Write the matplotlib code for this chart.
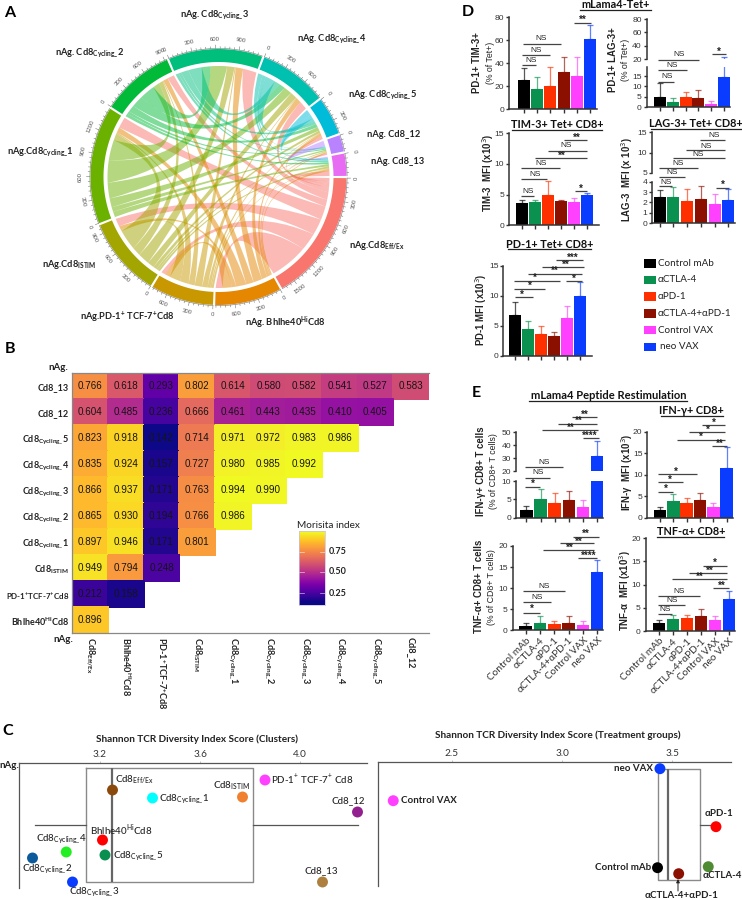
import numpy as np
import matplotlib
matplotlib.use("Agg")
import matplotlib.pyplot as plt
from matplotlib.path import Path
from matplotlib.patches import PathPatch, Polygon, Rectangle

plt.rcParams["font.family"] = ["Lato", "DejaVu Sans"]
plt.rcParams["mathtext.fontset"] = "dejavusans"
plt.rcParams["axes.unicode_minus"] = False

W, H = 742, 900
SANS = ["Liberation Sans", "DejaVu Sans"]

# ── Panel A: chord widths (row = source, column = target) ──
SECTORS = ["Eff/Ex", "Bhlhe40", "PD-1", "ISTIM", "C1", "C2", "C3", "C4", "C5", "C12", "C13"]
SECTOR_COLORS = ["#F8766D", "#E58700", "#C99800", "#A3A500", "#6BB100", "#00BA38",
                 "#00BF7D", "#00C0AF", "#00BCD8", "#B983FF", "#E76BF3"]
LINK_SOURCE = [
    [0, 560, 260, 240, 200, 100, 110, 70, 50, 40, 50],
    [0, 0, 140, 60, 150, 110, 130, 80, 40, 20, 20],
    [0, 0, 0, 160, 130, 90, 110, 80, 40, 20, 30],
    [0, 0, 0, 0, 300, 130, 170, 100, 50, 30, 30],
    [0, 0, 0, 0, 0, 300, 330, 230, 130, 70, 80],
    [0, 0, 0, 0, 0, 0, 230, 170, 100, 40, 45],
    [0, 0, 0, 0, 0, 0, 0, 200, 110, 40, 45],
    [0, 0, 0, 0, 0, 0, 0, 0, 150, 50, 70],
    [0, 0, 0, 0, 0, 0, 0, 0, 0, 60, 87],
    [0, 0, 0, 0, 0, 0, 0, 0, 0, 0, 85],
    [0, 0, 0, 0, 0, 0, 0, 0, 0, 0, 0],
]
LINK_TARGET = [
    [0, 100, 60, 120, 160, 100, 200, 120, 50, 25, 75],
    [0, 0, 80, 50, 80, 70, 110, 80, 40, 15, 30],
    [0, 0, 0, 30, 20, 15, 15, 10, 8, 6, 8],
    [0, 0, 0, 0, 100, 60, 110, 100, 35, 12, 30],
    [0, 0, 0, 0, 0, 100, 240, 120, 55, 20, 30],
    [0, 0, 0, 0, 0, 0, 130, 90, 50, 15, 25],
    [0, 0, 0, 0, 0, 0, 0, 80, 45, 12, 25],
    [0, 0, 0, 0, 0, 0, 0, 0, 50, 10, 20],
    [0, 0, 0, 0, 0, 0, 0, 0, 0, 10, 20],
    [0, 0, 0, 0, 0, 0, 0, 0, 0, 0, 20],
    [0, 0, 0, 0, 0, 0, 0, 0, 0, 0, 0],
]

# ── Panel B: Morisita index ────────────────────────────────────────────────────
MORISITA_ROWS = ["Cd8_13", "Cd8_12", r"Cd8$_{\mathregular{Cycling\_}}$5", r"Cd8$_{\mathregular{Cycling\_}}$4",
                 r"Cd8$_{\mathregular{Cycling\_}}$3", r"Cd8$_{\mathregular{Cycling\_}}$2",
                 r"Cd8$_{\mathregular{Cycling\_}}$1", r"Cd8$_{\mathregular{ISTIM}}$",
                 r"PD-1$^{\mathregular{+}}$TCF-7$^{\mathregular{+}}$Cd8", r"Bhlhe40$^{\mathregular{Hi}}$Cd8"]
MORISITA_COLS = [r"Cd8$_{\mathregular{Eff/Ex}}$", r"Bhlhe40$^{\mathregular{Hi}}$Cd8",
                 r"PD-1$^{\mathregular{+}}$TCF-7$^{\mathregular{+}}$Cd8", r"Cd8$_{\mathregular{ISTIM}}$",
                 r"Cd8$_{\mathregular{Cycling\_}}$1", r"Cd8$_{\mathregular{Cycling\_}}$2",
                 r"Cd8$_{\mathregular{Cycling\_}}$3", r"Cd8$_{\mathregular{Cycling\_}}$4",
                 r"Cd8$_{\mathregular{Cycling\_}}$5", "Cd8_12"]
MORISITA = [
    [0.766, 0.618, 0.293, 0.802, 0.614, 0.580, 0.582, 0.541, 0.527, 0.583],
    [0.604, 0.485, 0.236, 0.666, 0.461, 0.443, 0.435, 0.410, 0.405],
    [0.823, 0.918, 0.142, 0.714, 0.971, 0.972, 0.983, 0.986],
    [0.835, 0.924, 0.157, 0.727, 0.980, 0.985, 0.992],
    [0.866, 0.937, 0.171, 0.763, 0.994, 0.990],
    [0.865, 0.930, 0.194, 0.766, 0.986],
    [0.897, 0.946, 0.171, 0.801],
    [0.949, 0.794, 0.248],
    [0.212, 0.158],
    [0.896],
]

# ── Panel C: Shannon scores ────────────────────────────────────────────────────
CLUSTER_SCORE = [3.25, 3.41, 3.77, 3.86, 4.23, 3.21, 3.065, 3.22, 2.93, 3.09, 4.09]
CLUSTER_LEVEL = [27, 35, 34, 17, 49, 77, 89, 92, 95, 119, 119]
CLUSTER_COLORS = ["#8B4A0B", "#00FFFF", "#F08030", "#FF40FF", "#93208F", "#FF0000",
                  "#22EE22", "#0A8F50", "#0A5A9C", "#0A3CFF", "#AD8040"]
GROUP_SCORE = [3.444, 2.235, 3.698, 3.663, 3.433, 3.529]
GROUP_LEVEL = [7, 39, 65, 105, 106, 112]
GROUP_COLORS = ["#0A3CFF", "#FF40FF", "#FF0000", "#4E8B33", "#000000", "#8B1000"]

# ── Panels D and E: bar means and top of the error bar ─────────────────────────
TREATMENTS = ["Control mAb", "αCTLA-4", "αPD-1", "αCTLA-4+αPD-1", "Control VAX", "neo VAX"]
BAR_COLORS = ["#000000", "#0A9150", "#FF3000", "#8B1000", "#FF40FF", "#0A3CFF"]

TIM3_PCT = [25, 17.5, 20.5, 32, 29, 61]
TIM3_PCT_TOP = [36, 28, 37, 45.5, 45.5, 73.5]
LAG3_PCT = [5, 2.7, 5, 4.5, 1.8, 14.5]
LAG3_PCT_TOP = [11.5, 4.5, 7.5, 8.5, 3, 24]
TIM3_MFI = [3.7, 3.8, 5.0, 3.9, 3.8, 5.0]
TIM3_MFI_TOP = [4.2, 4.2, 7.3, 4.2, 4.5, 5.3]
LAG3_MFI = [2.5, 2.5, 2.15, 2.3, 1.85, 2.25]
LAG3_MFI_TOP = [3.15, 3.5, 3.25, 3.55, 2.8, 3.25]
PD1_MFI = [6.7, 4.4, 3.6, 3.3, 6.3, 9.9]
PD1_MFI_TOP = [9.0, 5.7, 5.0, 4.0, 8.2, 12.2]
IFN_PCT = [2.2, 5.2, 4.0, 4.8, 3.0, 31.5]
IFN_PCT_TOP = [3.3, 7.8, 6.7, 7.3, 4.9, 43.5]
IFN_MFI = [1.9, 3.9, 3.4, 4.1, 2.6, 11.5]
IFN_MFI_TOP = [2.6, 5.5, 4.6, 5.7, 3.4, 16.4]
TNF_PCT = [1.0, 1.7, 1.4, 1.8, 1.2, 13.8]
TNF_PCT_TOP = [1.8, 3.3, 2.1, 3.5, 2.3, 16.7]
TNF_MFI = [1.7, 2.6, 2.7, 3.2, 2.3, 6.8]
TNF_MFI_TOP = [2.4, 3.5, 3.5, 4.8, 3.3, 8.7]

fig = plt.figure(figsize=(W / 100, H / 100), dpi=100)


def axes_px(left, top, right, bottom, **kw):
    return fig.add_axes([left / W, 1 - bottom / H, (right - left) / W, (bottom - top) / H], **kw)


# overlay in pixel units, for the free-standing labels and the chord diagram
px = axes_px(0, 0, W, H, zorder=20)
px.set_xlim(0, W)
px.set_ylim(H, 0)
px.axis("off")
px.patch.set_alpha(0)


def label(x, y, s, size=6.7, weight="bold", ha="left", va="center", color="#222222", **kw):
    px.text(x, y, s, fontsize=size, fontweight=weight, ha=ha, va=va, color=color, **kw)


for letter, lx, ly in [("A", 10, 13), ("B", 10, 349), ("C", 8, 731), ("D", 468, 12), ("E", 476, 393)]:
    label(lx, ly, letter, size=11.5, ha="center", color="black")


# ── Panel A ────────────────────────────────────────────────────────────────────
CX, CY = 218.5, 177
R_LINK, R_IN, R_OUT = 111, 115, 128
GAP = 1.0


def polar(angle, r):
    rad = np.deg2rad(angle)
    return np.column_stack([CX + r * np.cos(rad), CY - r * np.sin(rad)])


src = np.array(LINK_SOURCE, dtype=float)
tgt = np.array(LINK_TARGET, dtype=float)
totals = src.sum(axis=1) + tgt.sum(axis=0)
deg_per_unit = (360 - GAP * len(totals)) / totals.sum()

starts = []
angle = -GAP / 2
for total in totals:
    starts.append(angle)
    angle -= total * deg_per_unit + GAP

# clockwise along a sector: own links first, farthest target first, then incoming
n = len(totals)
src_pos = np.zeros((n, n, 2))
tgt_pos = np.zeros((n, n, 2))
for i in range(n):
    a = starts[i]
    for j in range(n - 1, i, -1):
        src_pos[i, j] = a, a - src[i, j] * deg_per_unit
        a -= src[i, j] * deg_per_unit
    for j in range(i - 1, -1, -1):
        tgt_pos[j, i] = a, a - tgt[j, i] * deg_per_unit
        a -= tgt[j, i] * deg_per_unit


def link_path(a0, a1, b0, b1):
    mid_a, mid_b = (a0 + a1) / 2, (b0 + b1) / 2
    sep = abs((mid_a - mid_b + 180) % 360 - 180)
    bis = np.deg2rad(mid_a) + np.deg2rad(((mid_b - mid_a + 180) % 360 - 180) / 2)
    k = 0.3 * (1 - sep / 180)
    ctrl = [CX + R_LINK * k * np.cos(bis), CY - R_LINK * k * np.sin(bis)]
    arc_a = polar(np.linspace(a0, a1, 12), R_LINK)
    arc_b = polar(np.linspace(b0, b1, 12), R_LINK)
    verts = list(arc_a) + [ctrl] + list(arc_b) + [ctrl, arc_a[0]]
    codes = [Path.MOVETO] + [Path.LINETO] * 11 + [Path.CURVE3, Path.CURVE3] + [Path.LINETO] * 11 + [Path.CURVE3, Path.CURVE3]
    return Path(verts, codes)


for i in range(n):
    for j in range(i + 1, n):
        if src[i, j] > 0:
            px.add_patch(PathPatch(link_path(*src_pos[i, j], *tgt_pos[i, j]),
                                   facecolor=SECTOR_COLORS[i], edgecolor="none", alpha=0.5))

for i in range(n):
    a0, a1 = starts[i], starts[i] - totals[i] * deg_per_unit
    angs = np.linspace(a0, a1, 60)
    px.add_patch(Polygon(np.vstack([polar(angs, R_OUT), polar(angs[::-1], R_IN)]), closed=True,
                         facecolor=SECTOR_COLORS[i], edgecolor="none"))
    px.plot(*polar(angs, R_OUT + 0.6).T, color="#777777", lw=0.4)
    for v in np.arange(0, totals[i], 60):
        t = a0 - v * deg_per_unit
        major = v % 300 == 0
        px.plot(*polar(np.array([t, t]), np.array([R_OUT + 0.6, R_OUT + (4 if major else 2.4)])).T,
                color="#777777", lw=0.4)
        if major:
            rot = (t - 90 + 90) % 180 - 90
            x, y = polar(np.array([t]), R_OUT + 10)[0]
            px.text(x, y, f"{int(v)}", fontsize=4.3, color="#555555", rotation=rot,
                    rotation_mode="anchor", ha="center", va="center", family=SANS)

SUB_CYC = r"$_{\mathregular{Cycling\_}}$"
for x, y, s, ha in [
    (215, 15, f"nAg. Cd8{SUB_CYC}3", "center"),
    (296.7, 39, f"nAg. Cd8{SUB_CYC}4", "left"),
    (348, 95.7, f"nAg. Cd8{SUB_CYC}5", "left"),
    (366.7, 134.7, "nAg. Cd8_12", "left"),
    (370.7, 161.7, "nAg. Cd8_13", "left"),
    (349.3, 246, r"nAg.Cd8$_{\mathregular{Eff/Ex}}$", "left"),
    (245, 322.7, r"nAg. Bhlhe40$^{\mathregular{Hi}}$Cd8", "left"),
    (80, 317.3, r"nAg.PD-1$^{\mathregular{+}}$ TCF-7$^{\mathregular{+}}$Cd8", "left"),
    (41.7, 264.3, r"nAg.Cd8$_{\mathregular{ISTIM}}$", "left"),
    (7.3, 152.3, f"nAg.Cd8{SUB_CYC}1", "left"),
    (55, 53.7, f"nAg. Cd8{SUB_CYC}2", "left"),
]:
    label(x, y, s, ha=ha)

# ── Panel B ────────────────────────────────────────────────────────────────────
grid = np.full((10, 10), np.nan)
for r, row in enumerate(MORISITA):
    grid[r, :len(row)] = row

ax = axes_px(72.3, 373.3, 429, 633.3)
ax.pcolormesh(np.arange(11), np.arange(11), np.ma.masked_invalid(grid), cmap="plasma",
              vmin=0.142, vmax=0.994, edgecolors="face", linewidth=0.1)
ax.set_xlim(0, 10)
ax.set_ylim(10, 0)
for r, row in enumerate(MORISITA):
    for c, v in enumerate(row):
        ax.text(c + 0.5, r + 0.5, f"{v:.3f}", ha="center", va="center", fontsize=7.1,
                color="#151515", family=SANS)
ax.set_xticks(np.arange(10) + 0.5, MORISITA_COLS, rotation=-90, fontsize=6.6, fontweight="bold", color="#222222")
ax.set_yticks(np.arange(10) + 0.5, MORISITA_ROWS, fontsize=6.5, fontweight="bold", color="#222222")
ax.tick_params(length=0, pad=2.5)
for lab in ax.get_xticklabels():
    lab.set_verticalalignment("top")
ax.get_yticklabels()[8].set_fontsize(5.7)
ax.spines["right"].set_visible(False)
for name in ("left", "bottom", "top"):
    ax.spines[name].set_color("#888888")
    ax.spines[name].set_linewidth(0.9)
label(68, 367, "nAg.", ha="right", size=7)
label(73, 640, "nAg.", ha="right", size=7)

cb = axes_px(299, 531, 325, 605)
ramp = np.linspace(1.0, 0.1, 128).reshape(-1, 1)
cb.imshow(ramp, cmap="plasma", vmin=0.142, vmax=0.994, aspect="auto", extent=[0, 1, 0.1, 1.0])
cb.set_xticks([])
cb.set_yticks([])
for s in cb.spines.values():
    s.set_color("#C8BEE8")
    s.set_linewidth(0.5)
for v in [0.75, 0.50, 0.25]:
    cb.plot([0, 0.2], [v, v], color="white", lw=0.5, alpha=0.7)
    cb.plot([0.8, 1], [v, v], color="white", lw=0.5, alpha=0.7)
cb.set_xlim(0, 1)
cb.set_ylim(0.1, 1.0)
label(297.3, 525.3, "Morisita index", size=7.2, weight="normal")
for y, s in [(552, "0.75"), (572, "0.50"), (593.5, "0.25")]:
    label(329, y, s, size=6.5)


# ── Panel C ────────────────────────────────────────────────────────────────────
def shannon_axes(left, right, top, bottom, tick_a, px_a, tick_b, px_b, ticks):
    ax = axes_px(left, top, right, bottom)
    scale = (tick_b - tick_a) / (px_b - px_a)
    ax.set_xlim(tick_a + (left - px_a) * scale, tick_a + (right - px_a) * scale)
    ax.set_ylim(bottom - top, 0)
    ax.xaxis.tick_top()
    ax.set_xticks(ticks, [f"{t:.1f}" for t in ticks], fontsize=7.2, color="#333333")
    ax.set_yticks([])
    ax.tick_params(axis="x", length=1.5, width=0.4, color="#999999", pad=1.5)
    for name in ("right", "bottom"):
        ax.spines[name].set_visible(False)
    for name in ("left", "top"):
        ax.spines[name].set_color("#555555")
        ax.spines[name].set_linewidth(0.9)
    ax.patch.set_alpha(0)
    return ax


def box(ax, stats, level, height):
    ax.bxp([stats], positions=[level], widths=[height], orientation="horizontal", showcaps=False,
           showfliers=False, manage_ticks=False,
           boxprops=dict(color="#8A8A8A", lw=1.0),
           whiskerprops=dict(color="#555555", lw=0.9),
           medianprops=dict(color="#666666", lw=1.6))


ax = shannon_axes(19, 367, 763, 888, 3.2, 100, 4.0, 300, [3.2, 3.6, 4.0])
box(ax, dict(whislo=2.94, q1=3.143, med=3.247, q3=3.81, whishi=4.23), 62, 113.5)
ax.scatter(CLUSTER_SCORE, CLUSTER_LEVEL, s=62, c=CLUSTER_COLORS, zorder=5, clip_on=False, linewidths=0)

ax = shannon_axes(377.7, 731, 761.7, 885.7, 2.5, 451.7, 3.5, 672.3, [2.5, 3.0, 3.5])
box(ax, dict(whislo=3.433, q1=3.433, med=3.479, q3=3.625, whishi=3.698), 63, 111)
ax.scatter(GROUP_SCORE, GROUP_LEVEL, s=62, c=GROUP_COLORS, zorder=5, clip_on=False, linewidths=0)

label(196.7, 739.3, "Shannon TCR Diversity Index Score (Clusters)", ha="center", size=7.2)
label(557.7, 735.7, "Shannon TCR Diversity Index Score (Treatment groups)", ha="center", size=7.2)
label(19, 766, "nAg.", ha="right", size=7)

CSZ = 7.0
for x, y, s in [
    (115, 780, r"Cd8$_{\mathregular{Eff/Ex}}$"),
    (159, 799, f"Cd8{SUB_CYC}1"),
    (213.3, 785.7, r"Cd8$_{\mathregular{ISTIM}}$"),
    (271, 779.3, r"PD-1$^{\mathregular{+}}$ TCF-7$^{\mathregular{+}}$ Cd8"),
    (331, 800.3, "Cd8_12"),
    (90, 830.3, r"Bhlhe40$^{\mathregular{Hi}}$Cd8"),
    (35.7, 839, f"Cd8{SUB_CYC}4"),
    (113.3, 856.7, f"Cd8{SUB_CYC}5"),
    (21.7, 869.3, f"Cd8{SUB_CYC}2"),
    (69, 892.3, f"Cd8{SUB_CYC}3"),
    (304.3, 870.7, "Cd8_13"),
]:
    label(x, y, s, size=CSZ, weight="medium")

label(653.3, 768.7, "neo VAX", ha="right", size=7)
label(400.7, 800.7, "Control VAX", size=7)
label(705, 813, "αPD-1", size=7)
label(651.7, 868, "Control mAb", ha="right", size=7)
label(702.3, 876, "αCTLA-4", size=7)
label(681.7, 895, "αCTLA-4+αPD-1", ha="center", size=7)
px.annotate("", xy=(678, 879), xytext=(678, 891),
            arrowprops=dict(arrowstyle="-|>", color="#222222", lw=0.7, mutation_scale=5, shrinkA=0, shrinkB=0))


# ── Panels D and E ─────────────────────────────────────────────────────────────
def style_bar_axes(ax, xlim, ticks):
    ax.set_xlim(*xlim)
    ax.patch.set_alpha(0)
    for name in ("right", "top"):
        ax.spines[name].set_visible(False)
    for name in ("left", "bottom"):
        ax.spines[name].set_color("#333333")
        ax.spines[name].set_linewidth(1.1)
    ax.set_yticks(ticks)
    ax.tick_params(axis="y", labelsize=6.1, length=2.5, width=1.0, pad=1.0, color="#333333", labelcolor="#333333")
    for lab in ax.get_yticklabels():
        lab.set_family(SANS)


def draw_bars(ax, step, width_px, means, tops):
    xs = np.arange(6)
    ax.bar(xs, means, width=width_px / step, color=BAR_COLORS, edgecolor="none", zorder=2)
    for x, m, t, c in zip(xs, means, tops, BAR_COLORS):
        ax.errorbar(x, m, yerr=[[0], [t - m]], color=c, ecolor=c, elinewidth=0.9, capsize=2.5,
                    capthick=0.9, alpha=0.65, fmt="none", zorder=1)


def bar_panel(left, right, bottom, top, ylim, ticks, first, last, means, tops,
              width_px=12, upper=None, xlabels=False):
    """upper = (top_px, bottom_px, ymin, ymax, ticks) adds the broken part of the axis."""
    step = (last - first) / 5
    xlim = ((left - first) / step, (right - first) / step)
    ax = axes_px(left, top, right, bottom)
    ax.set_ylim(*ylim)
    style_bar_axes(ax, xlim, ticks)
    draw_bars(ax, step, width_px, means, tops)
    ax.set_xticks(np.arange(6))
    ax.tick_params(axis="x", length=3, width=1.0, color="#333333", pad=1)
    if xlabels:
        ax.set_xticklabels(TREATMENTS, rotation=45, ha="right", rotation_mode="anchor",
                           fontsize=7.2, color="#333333")
    else:
        ax.set_xticklabels([])
    if upper:
        up_top, up_bottom, y0, y1, up_ticks = upper
        up = axes_px(left, up_top, right, up_bottom)
        up.set_ylim(y0, y1)
        style_bar_axes(up, xlim, up_ticks)
        draw_bars(up, step, width_px, means, tops)
        up.spines["bottom"].set_visible(False)
        up.set_xticks([])


def sig_marks(ox, oy, marks):
    # marks are (x0, x1, y, text, text_x, text_y) in 3x crop units from (ox, oy)
    for x0, x1, y, s, tx, ty in marks:
        px.plot([ox + x0 / 3, ox + x1 / 3], [oy + y / 3, oy + y / 3], color="#444444", lw=0.9, solid_capstyle="butt")
        if s == "NS":
            label(ox + tx / 3, oy + ty / 3, s, size=6.0, weight="normal", ha="center", family=SANS)
        else:
            label(ox + tx / 3, oy + ty / 3 + 0.8, s, size=7, ha="center", family=SANS)


def panel_title(cx, y, x0, x1, line_y, s, size=7.8):
    label(cx, y, s, ha="center", size=size, color="#111111")
    px.plot([x0, x1], [line_y, line_y], color="#222222", lw=0.9)


def ylab(x, y, s, weight="bold", size=6.9):
    label(x, y, s, ha="center", rotation=90, weight=weight, size=size, family=SANS)


# D
panel_title(615.7, 4.5, 580, 651, 10, "mLama4-Tet+")
bar_panel(509.3, 597, 109, 17.3, (0, 80), [0, 20, 40, 60, 80], 523.7, 590.3, TIM3_PCT, TIM3_PCT_TOP)
sig_marks(440, 0, [(247, 288, 195, "NS", 272, 181), (247, 330, 165, "NS", 288, 150),
                   (250, 363, 131, "NS", 302, 115), (403, 453, 68, "**", 428, 58)])
ylab(477, 63, "PD-1+ TIM-3+")
ylab(490.7, 63, "(% of Tet+)", weight="normal", size=6.3)

bar_panel(646.7, 730, 107.3, 66.7, (0, 19.5), [0, 5, 10, 15], 659.7, 724.3, LAG3_PCT, LAG3_PCT_TOP,
          upper=(19, 59.3, 20, 80, [20, 40, 60, 80]))
sig_marks(440, 0, [(655, 702, 245, "NS", 680, 230), (655, 740, 211, "NS", 695, 196),
                   (655, 776, 179, "NS", 716, 165), (817, 858, 161, "*", 836, 152)])
ylab(612.7, 60, "PD-1+ LAG-3+")
ylab(626, 60, "(% of Tet+)", weight="normal", size=6.3)

panel_title(557.3, 125, 512.3, 602.3, 130.3, "TIM-3+ Tet+ CD8+")
bar_panel(509, 599, 225.3, 133.3, (0, 15), [0, 5, 10, 15], 521.7, 587.3, TIM3_MFI, TIM3_MFI_TOP)
sig_marks(440, 0, [(243, 283, 588, "NS", 264, 574), (243, 322, 538, "NS", 285, 524),
                   (243, 360, 504, "NS", 303, 491), (285, 440, 475, "**", 365, 465),
                   (323, 440, 452, "NS", 378, 436), (373, 441, 421, "**", 410, 412),
                   (404, 440, 573, "*", 424, 564)])
ylab(488, 173, "TIM-3  MFI (x10$^{3}$)")

panel_title(696, 123.7, 651, 741, 129, "LAG-3+ Tet+ CD8+")
bar_panel(652, 735, 223, 181.7, (0, 4), [0, 1, 2, 3, 4], 659.7, 728.3, LAG3_MFI, LAG3_MFI_TOP,
          upper=(132.3, 172.7, 5, 15, [5, 10, 15]))
sig_marks(440, 0, [(657, 697, 559, "NS", 678, 546), (657, 735, 532, "NS", 697, 518),
                   (657, 775, 505, "NS", 714, 490), (698, 855, 475, "NS", 774, 462),
                   (738, 855, 451, "NS", 797, 438), (780, 855, 421, "NS", 821, 406),
                   (828, 868, 563, "*", 848, 552)])
ylab(626.7, 180, "LAG-3  MFI (x 10$^{3}$)")

panel_title(549.3, 244.3, 507.7, 591, 249.3, "PD-1+ Tet+ CD8+")
bar_panel(503.3, 591.7, 355.7, 265.7, (0, 15), [0, 5, 10, 15], 515, 579.7, PD1_MFI, PD1_MFI_TOP)
sig_marks(440, 215, [(225, 278, 246, "*", 247, 236), (222, 315, 221, "*", 269, 210),
                     (222, 360, 199, "*", 284, 187), (264, 425, 177, "**", 344, 166),
                     (305, 433, 155, "**", 378, 147), (348, 430, 135, "***", 398, 125),
                     (377, 425, 199, "*", 402, 190)])
ylab(481.3, 310, "PD-1 MFI (x10$^{3}$)")

# legend of the treatment groups
for i, name in enumerate(TREATMENTS):
    y = 263.3 + i * 16.7
    px.add_patch(Rectangle((644.3, y - 4.3), 11.3, 8.6, facecolor=BAR_COLORS[i], edgecolor="none"))
    label(657.5 if i < 5 else 659.5, y, name, size=7.1, weight="normal")

# E
panel_title(608.3, 395.7, 529.3, 687, 400.7, "mLama4 Peptide Restimulation", size=8.0)
bar_panel(516, 603, 517.7, 481, (0, 10), [0, 5, 10], 526.3, 597.3, IFN_PCT, IFN_PCT_TOP, width_px=12.7,
          upper=(432.3, 471, 20, 50, [20, 30, 40, 50]))
sig_marks(440, 380, [(254, 300, 320, "*", 278, 310), (254, 330, 293, "NS", 294, 279),
                     (254, 368, 262, "NS", 312, 247), (305, 475, 150, "**", 392, 140),
                     (355, 472, 131, "**", 415, 120), (395, 472, 112, "**", 433, 102),
                     (428, 478, 175, "****", 450, 165)])
ylab(481, 471, "IFN-γ+ CD8+ T cells")
ylab(493.3, 471, "(% of CD8+ T cells)", weight="normal", size=6.3)

panel_title(691.7, 410.7, 660.7, 722.7, 415.7, "IFN-γ+ CD8+")
bar_panel(647.3, 733, 517.7, 431.7, (0, 20), [0, 5, 10, 15, 20], 660, 726.7, IFN_MFI, IFN_MFI_TOP, width_px=12.7)
sig_marks(440, 380, [(655, 700, 335, "*", 677, 325), (655, 730, 307, "*", 689, 296),
                     (655, 770, 283, "*", 709, 273), (710, 855, 179, "*", 783, 169),
                     (748, 855, 157, "*", 805, 147), (787, 855, 135, "*", 823, 126),
                     (817, 862, 197, "**", 840, 190)])
ylab(627.3, 472, "IFN-γ  MFI (x10$^{3}$)")

bar_panel(512.7, 603, 630.3, 546, (0, 20), [0, 5, 10, 15, 20], 525.7, 597.3, TNF_PCT, TNF_PCT_TOP,
          width_px=12.7, xlabels=True)
sig_marks(440, 500, [(250, 300, 338, "*", 275, 325), (250, 333, 307, "NS", 291, 293),
                     (250, 375, 273, "NS", 311, 258), (310, 462, 151, "**", 390, 141),
                     (360, 462, 130, "**", 416, 122), (400, 477, 110, "**", 438, 100),
                     (415, 472, 175, "****", 445, 165)])
ylab(479, 586.7, "TNF-α+ CD8+ T cells")
ylab(491.7, 586.7, "(% of CD8+ T cells)", weight="normal", size=6.3)

panel_title(690.7, 531.3, 657, 724, 536.7, "TNF-α+ CD8+")
bar_panel(645.7, 735, 631, 538.3, (0, 20), [0, 5, 10, 15, 20], 659, 729, TNF_MFI, TNF_MFI_TOP,
          width_px=12.7, xlabels=True)
sig_marks(440, 500, [(655, 695, 342, "NS", 675, 328), (655, 735, 315, "NS", 695, 302),
                     (655, 780, 287, "NS", 717, 274), (697, 862, 238, "**", 780, 228),
                     (747, 862, 220, "**", 808, 210), (788, 862, 197, "*", 825, 187),
                     (820, 868, 263, "**", 846, 254)])
ylab(625, 590, "TNF-α  MFI (x10$^{3}$)")

fig.savefig("out.png", dpi=100)
